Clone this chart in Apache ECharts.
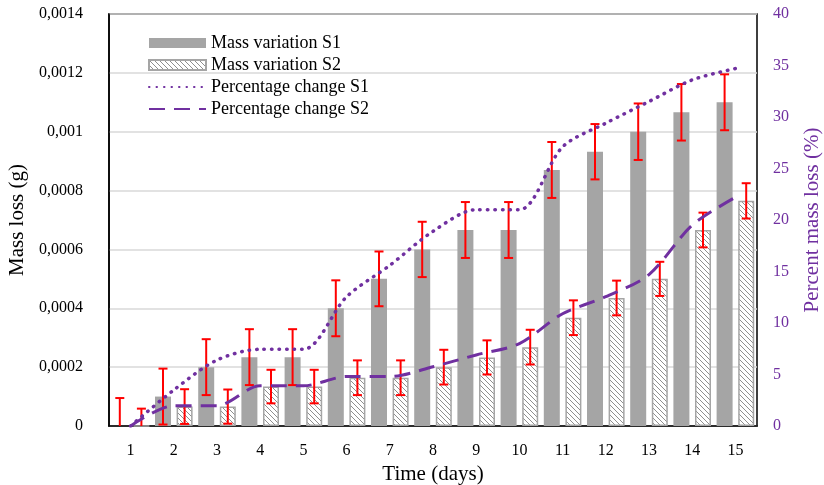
<!DOCTYPE html>
<html><head><meta charset="utf-8">
<script src="https://cdn.jsdelivr.net/npm/echarts@6/dist/echarts.min.js"></script>
<style>html,body{margin:0;padding:0;background:#fff}#c{width:824px;height:485px}</style>
</head><body><div id="c"></div>
<script>
const days = ['1','2','3','4','5','6','7','8','9','10','11','12','13','14','15'];
const massS1 = [0, 0.0001, 0.0002, 0.000234, 0.000234, 0.0004, 0.0005, 0.0006, 0.000666, 0.000666, 0.00087, 0.000932, 0.001, 0.001066, 0.0011];
const massS2 = [0, 0.000066, 0.000066, 0.000134, 0.000134, 0.000164, 0.000164, 0.0002, 0.000233, 0.000268, 0.000368, 0.000435, 0.0005, 0.000666, 0.000765];
const errS1 = [0.000095, 0.000095, 0.000095, 0.000095, 0.000095, 0.000095, 0.000093, 0.000094, 0.000095, 0.000095, 0.000095, 0.000094, 0.000096, 0.000096, 0.000095];
const errS2 = [0.000059, 0.000059, 0.000058, 0.000057, 0.000057, 0.000059, 0.000059, 0.000059, 0.000058, 0.000059, 0.000059, 0.000059, 0.000058, 0.000059, 0.00006];
const pctS1 = [0, 3.5, 6.4, 7.45, 7.45, 12.55, 15.6, 18.9, 21.0, 21.0, 27.1, 29.4, 31.5, 33.6, 34.7];
const pctS2 = [0, 1.97, 1.97, 3.9, 3.9, 4.8, 4.8, 5.75, 6.9, 8.0, 10.9, 12.55, 14.7, 19.5, 22.2];
const massTickLabels = ['0', '0,0002', '0,0004', '0,0006', '0,0008', '0,001', '0,0012', '0,0014'];
const pctTickLabels = ['0', '5', '10', '15', '20', '25', '30', '35', '40'];

const FONT = '"Liberation Serif","Times New Roman",serif';
const PURPLE = '#7030A0';
const GRAY = '#A5A5A5';
const BAR_W = 16, BAR_GAP = 0.35;

const hatch = document.createElement('canvas');
hatch.width = 5; hatch.height = 5;
const hc = hatch.getContext('2d');
hc.fillStyle = '#fff'; hc.fillRect(0, 0, 5, 5);
hc.strokeStyle = '#8f8f8f'; hc.lineWidth = 1;
hc.beginPath();
hc.moveTo(-1, -1); hc.lineTo(6, 6);
hc.moveTo(-1, 4); hc.lineTo(1, 6);
hc.moveTo(4, -1); hc.lineTo(6, 1);
hc.stroke();

function errorRenderer(side) {
  return function (params, api) {
    const i = api.value(0), v = api.value(1), e = api.value(2);
    const off = side * (BAR_W * (1 + BAR_GAP)) / 2;
    const hi = api.coord([i, v + e]), lo = api.coord([i, v - e]);
    const x = hi[0] + off, cap = 4.5;
    const st = { stroke: '#FF0000', lineWidth: 2 };
    return { type: 'group', children: [
      { type: 'line', shape: { x1: x, y1: hi[1], x2: x, y2: lo[1] }, style: st },
      { type: 'line', shape: { x1: x - cap, y1: hi[1], x2: x + cap, y2: hi[1] }, style: st },
      { type: 'line', shape: { x1: x - cap, y1: lo[1], x2: x + cap, y2: lo[1] }, style: st }
    ]};
  };
}

const chart = echarts.init(document.getElementById('c'), null, { renderer: 'canvas' });
chart.setOption({
  animation: false,
  backgroundColor: '#fff',
  textStyle: { fontFamily: FONT },
  grid: { left: 109, right: 67, top: 14, bottom: 59, outerBoundsMode: 'none', containLabel: false,
    show: true, borderColor: '#000', borderWidth: 1.5, backgroundColor: 'transparent' },
  legend: {
    orient: 'vertical', left: 143, top: 29, itemWidth: 57, itemHeight: 10, itemGap: 4,
    textStyle: { fontFamily: FONT, fontSize: 18, color: '#000' },
    data: [
      { name: 'Mass variation S1', icon: 'rect' },
      { name: 'Mass variation S2', icon: 'rect' },
      { name: 'Percentage change S1', itemStyle: { opacity: 0 } },
      { name: 'Percentage change S2', itemStyle: { opacity: 0 } }
    ]
  },
  xAxis: {
    type: 'category', data: days,
    axisLine: { lineStyle: { color: '#000', width: 1.5 } },
    axisTick: { show: false },
    axisLabel: { fontFamily: FONT, fontSize: 16, color: '#000', margin: 17 },
    name: 'Time (days)', nameLocation: 'middle', nameGap: 30,
    nameTextStyle: { fontFamily: FONT, fontSize: 21, color: '#000' }
  },
  yAxis: [{
    type: 'value', min: 0, max: 0.0014, interval: 0.0002,
    axisLine: { show: true, lineStyle: { color: '#000', width: 1.5 } },
    axisTick: { show: false },
    splitLine: { lineStyle: { color: '#D9D9D9', width: 1.5 } },
    axisLabel: { fontFamily: FONT, fontSize: 16, color: '#000', margin: 26,
      formatter: v => massTickLabels[Math.round(v / 0.0002)] },
    name: 'Mass loss (g)', nameLocation: 'middle', nameGap: 72, nameRotate: 90,
    nameTextStyle: { fontFamily: FONT, fontSize: 21, color: '#000' }
  }, {
    type: 'value', min: 0, max: 40, interval: 5, position: 'right',
    axisLine: { show: false }, axisTick: { show: false }, splitLine: { show: false },
    axisLabel: { fontFamily: FONT, fontSize: 16, color: PURPLE, margin: 16,
      formatter: v => pctTickLabels[Math.round(v / 5)] },
    name: 'Percent mass loss (%)', nameLocation: 'middle', nameGap: 45, nameRotate: 90,
    nameTextStyle: { fontFamily: FONT, fontSize: 21, color: PURPLE }
  }],
  series: [
    { name: 'Mass variation S1', type: 'bar', data: massS1, barWidth: BAR_W, barGap: (BAR_GAP * 100) + '%',
      itemStyle: { color: GRAY } },
    { name: 'Mass variation S2', type: 'bar', data: massS2, barWidth: BAR_W,
      itemStyle: { color: { image: hatch, repeat: 'repeat' }, borderColor: GRAY, borderWidth: 1.5 } },
    { name: 'errS1', type: 'custom', clip: true, z: 3, renderItem: errorRenderer(-1),
      data: massS1.map((v, i) => [i, v, errS1[i]]), encode: { x: 0, y: 1 } },
    { name: 'errS2', type: 'custom', clip: true, z: 3, renderItem: errorRenderer(1),
      data: massS2.map((v, i) => [i, v, errS2[i]]), encode: { x: 0, y: 1 } },
    { name: 'Percentage change S1', type: 'line', yAxisIndex: 1, data: pctS1, smooth: 0.3, symbol: 'none', z: 4,
      itemStyle: { color: PURPLE },
      lineStyle: { color: PURPLE, width: 3.5, type: [0.5, 7], cap: 'round' } },
    { name: 'Percentage change S2', type: 'line', yAxisIndex: 1, data: pctS2, smooth: 0.3, symbol: 'none', z: 4,
      itemStyle: { color: PURPLE },
      lineStyle: { color: PURPLE, width: 3, type: [16, 9] } }
  ]
});
</script></body></html>
